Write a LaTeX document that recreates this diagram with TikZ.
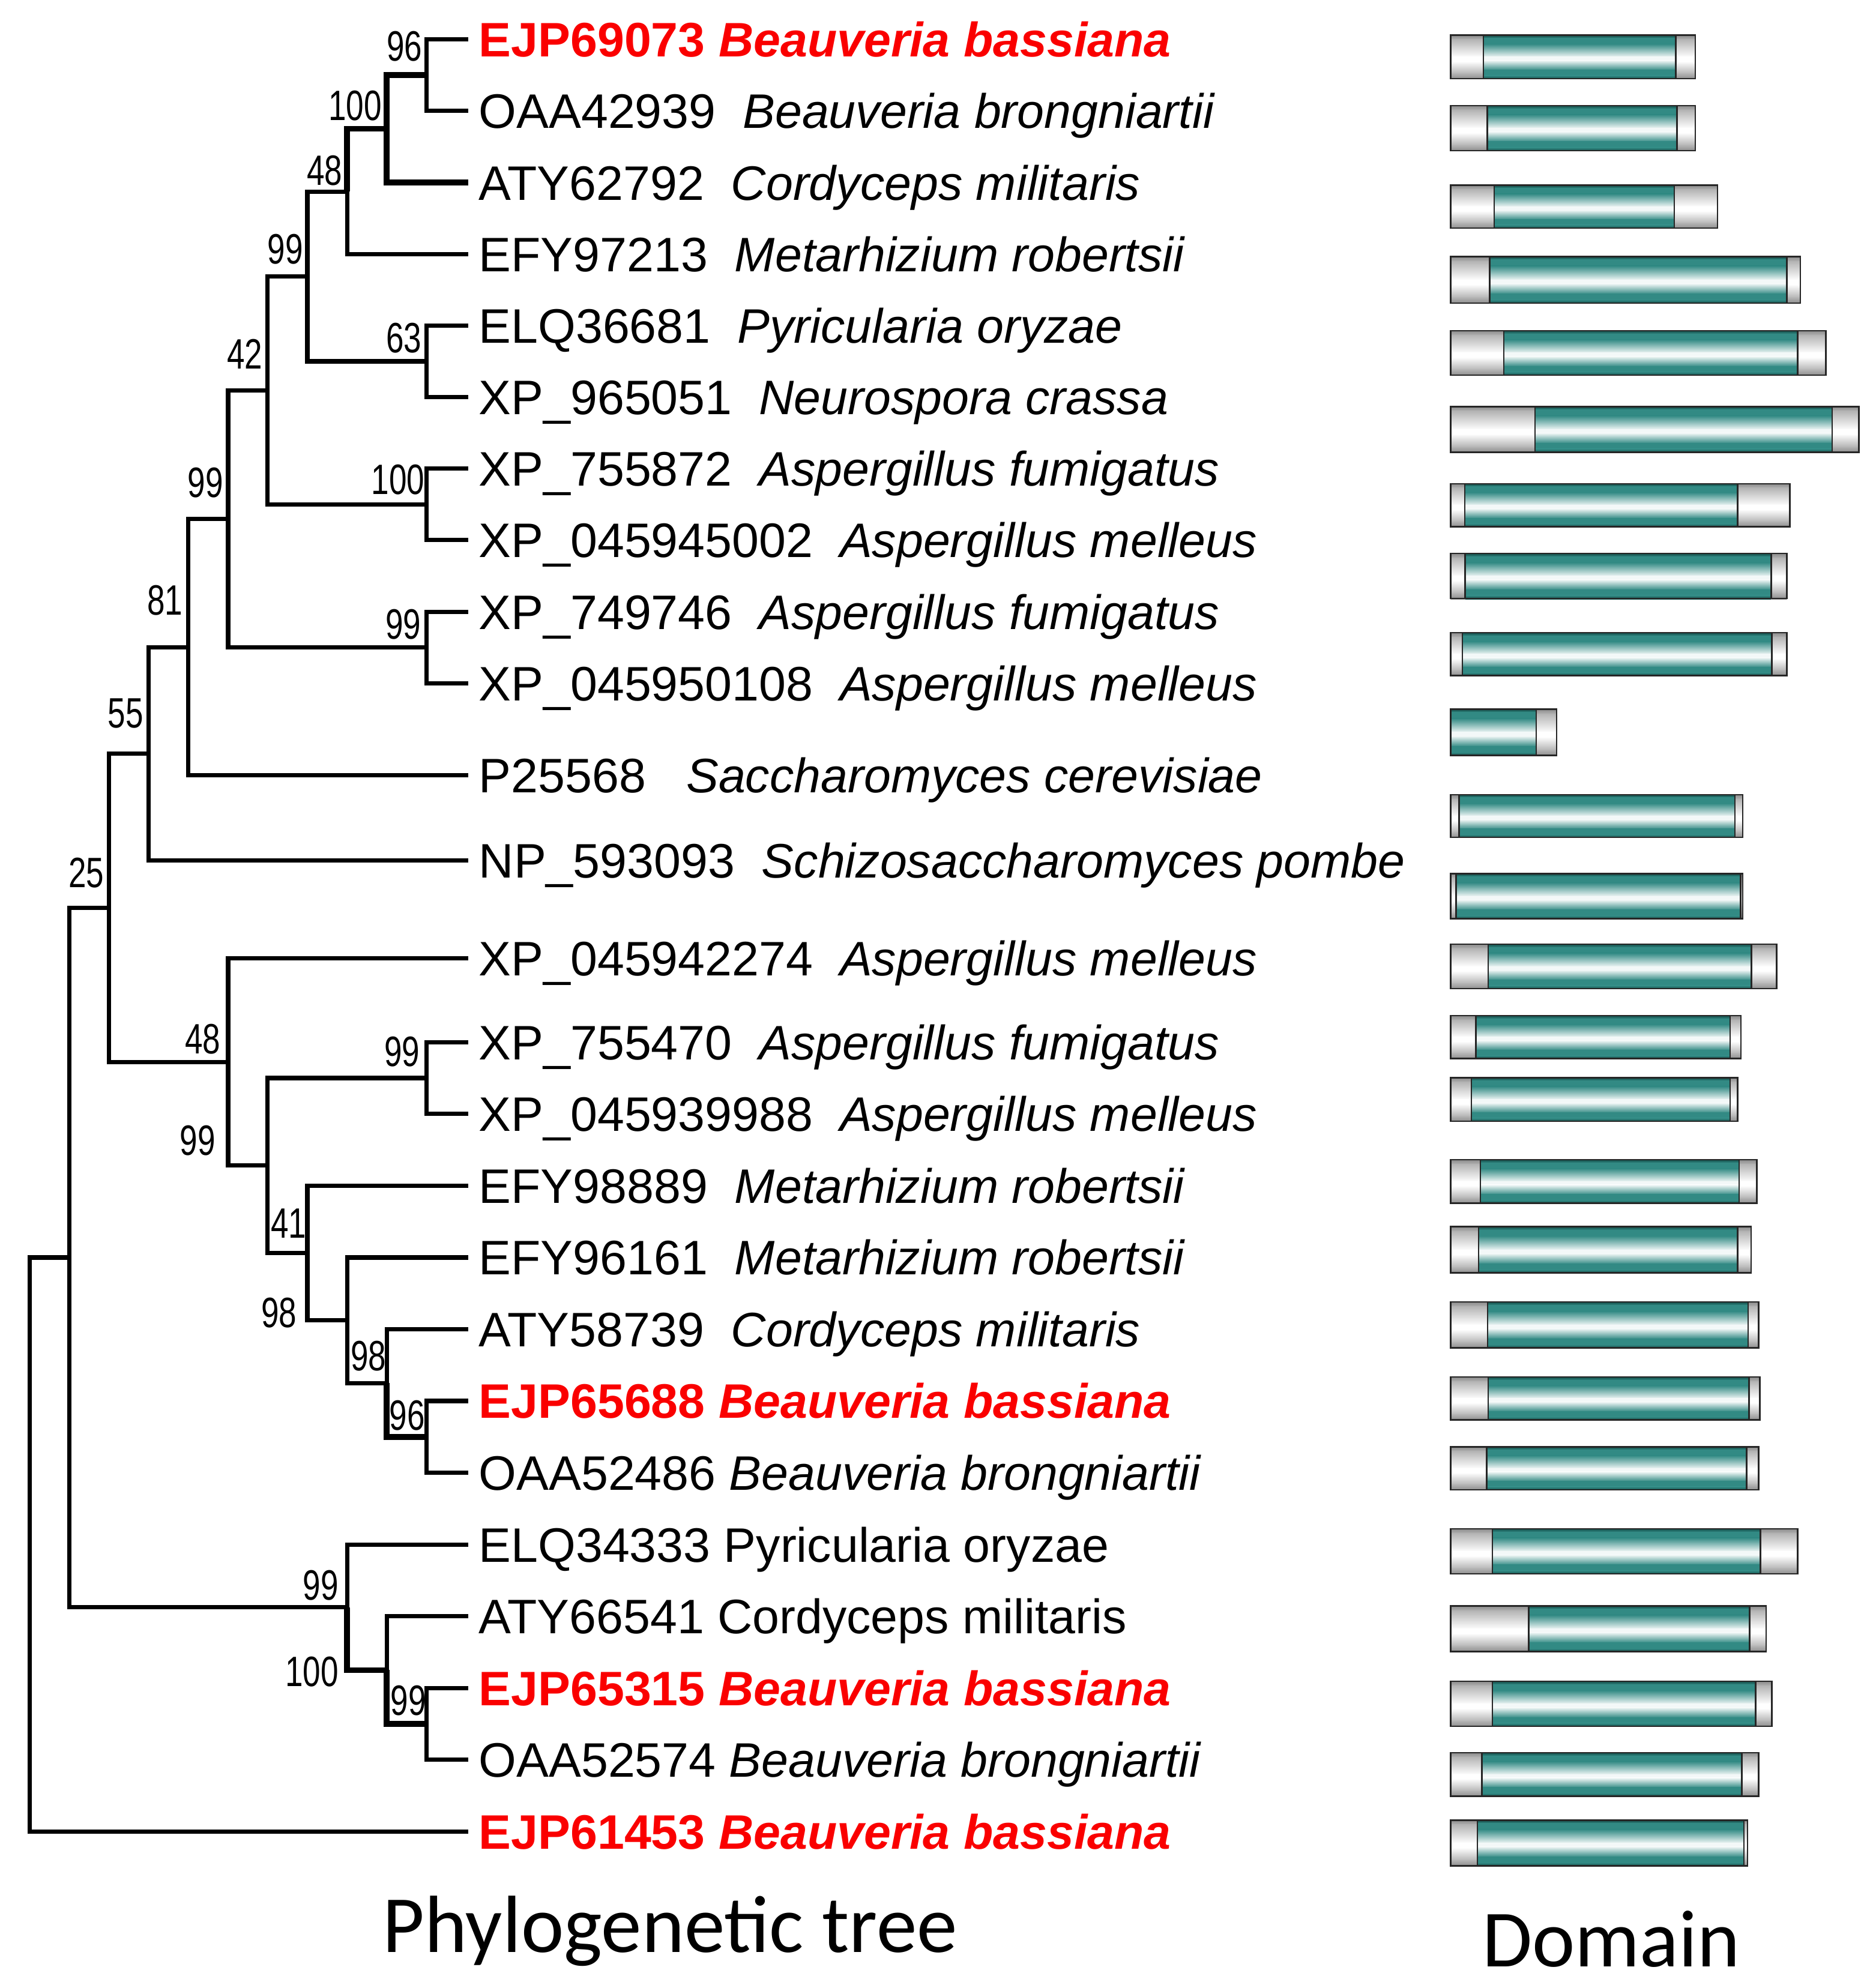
\documentclass[tikz,border=0pt]{standalone}
\usepackage{fontspec}
\setmainfont{Liberation Sans}
\newfontfamily\bsfont[FakeStretch=0.75]{Liberation Sans}
\newfontfamily\ttlfont{Carlito}
\definecolor{tmain}{RGB}{50,138,132}
\definecolor{tdark}{RGB}{20,80,76}
\colorlet{tlC}{tmain!6!white}
\definecolor{gmain}{RGB}{180,180,180}
\definecolor{gdark}{RGB}{140,140,140}
\definecolor{redlab}{RGB}{250,0,0}
\newcommand{\tealfill}[4]{%
  \pgfmathsetmacro\bhh{#4-#3}%
  \foreach \fa/\fb/\ca/\cb in {0/0.07/tdark/tmain, 0.07/0.2/tmain/tmain, 0.2/0.5/tmain/tlC, 0.5/0.58/tlC/tlC, 0.58/0.8/tlC/tmain, 0.8/0.93/tmain/tmain, 0.93/1/tmain/tdark}{%
    \shade[top color=\ca, bottom color=\cb] (#1,{#3+\fa*\bhh}) rectangle (#2,{#3+\fb*\bhh+0.4});
  }}
\newcommand{\grayfill}[4]{%
  \pgfmathsetmacro\bhh{#4-#3}%
  \foreach \fa/\fb/\ca/\cb in {0/0.1/gdark/gmain, 0.1/0.5/gmain/white, 0.5/0.6/white/white, 0.6/0.88/white/gmain, 0.88/1/gmain/gdark}{%
    \shade[top color=\ca, bottom color=\cb] (#1,{#3+\fa*\bhh}) rectangle (#2,{#3+\fb*\bhh+0.4});
  }}
\newcommand{\dombar}[5]{%
  \grayfill{1144}{#3}{#1}{#2}
  \tealfill{#3}{#4}{#1}{#2}
  \grayfill{#4}{#5}{#1}{#2}
  \draw[barline] (#3,#1) -- (#3,#2) (#4,#1) -- (#4,#2);
  \draw[barline] (1144,#1) rectangle (#5,#2);
}
\begin{document}
\begin{tikzpicture}[x=0.5pt,y=-0.5pt,
  br/.style={line width=1.7pt, black},
  brk/.style={line width=2.3pt, black},
  leaf/.style={anchor=west, inner xsep=4pt, inner ysep=0pt, text height=13.7pt, text depth=0pt, font=\fontsize{19.1}{22}\selectfont},
  redleaf/.style={leaf, text=redlab, font=\fontsize{19.1}{22}\selectfont\bfseries},
  bs/.style={inner sep=0pt, text height=12pt, text depth=0pt, font=\bsfont\fontsize{16.75}{18}\selectfont},
  barline/.style={line width=0.6pt, black!85},
  ttl/.style={anchor=base, inner sep=0pt, font=\ttlfont\fontsize{32}{38}\selectfont}]
\useasboundingbox (0,0) rectangle (1479,1568);
\fill[white] (0,0) rectangle (1479,1568);

% leaf labels
\node[redleaf] (L1) at (369.3,31) {EJP69073 \textit{Beauveria bassiana}};
\node[leaf] (L2) at (369.3,87.5) {OAA42939~~\textit{Beauveria brongniartii}};
\node[leaf] (L3) at (369.3,144) {ATY62792~~\textit{Cordyceps militaris}};
\node[leaf] (L4) at (369.3,200.5) {EFY97213~~\textit{Metarhizium robertsii}};
\node[leaf] (L5) at (369.3,257) {ELQ36681~~\textit{Pyricularia oryzae}};
\node[leaf] (L6) at (369.3,313) {XP\_965051~~\textit{Neurospora crassa}};
\node[leaf] (L7) at (369.3,369.5) {XP\_755872~~\textit{Aspergillus fumigatus}};
\node[leaf] (L8) at (369.3,426) {XP\_045945002~~\textit{Aspergillus melleus}};
\node[leaf] (L9) at (369.3,482.5) {XP\_749746~~\textit{Aspergillus fumigatus}};
\node[leaf] (L10) at (369.3,539) {XP\_045950108~~\textit{Aspergillus melleus}};
\node[leaf] (L11) at (369.3,611.5) {P25568~~~\textit{Saccharomyces cerevisiae}};
\node[leaf] (L12) at (369.3,678.5) {NP\_593093~~\textit{Schizosaccharomyces pombe}};
\node[leaf] (L13) at (369.3,756) {XP\_045942274~~\textit{Aspergillus melleus}};
\node[leaf] (L14) at (369.3,822) {XP\_755470~~\textit{Aspergillus fumigatus}};
\node[leaf] (L15) at (369.3,878.6) {XP\_045939988~~\textit{Aspergillus melleus}};
\node[leaf] (L16) at (369.3,935.2) {EFY98889~~\textit{Metarhizium robertsii}};
\node[leaf] (L17) at (369.3,991.8) {EFY96161~~\textit{Metarhizium robertsii}};
\node[leaf] (L18) at (369.3,1048.4) {ATY58739~~\textit{Cordyceps militaris}};
\node[redleaf] (L19) at (369.3,1105) {EJP65688 \textit{Beauveria bassiana}};
\node[leaf] (L20) at (369.3,1161.6) {OAA52486 \textit{Beauveria brongniartii}};
\node[leaf] (L21) at (369.3,1218.2) {ELQ34333 Pyricularia oryzae};
\node[leaf] (L22) at (369.3,1274.8) {ATY66541 Cordyceps militaris};
\node[redleaf] (L23) at (369.3,1331.4) {EJP65315 \textit{Beauveria bassiana}};
\node[leaf] (L24) at (369.3,1388) {OAA52574 \textit{Beauveria brongniartii}};
\node[redleaf] (L25) at (369.3,1444.6) {EJP61453 \textit{Beauveria bassiana}};

% internal nodes
\coordinate (A1) at (336.3,59.25);
\coordinate (A2) at (305.0,101.6);
\coordinate (A3) at (273.7,151.1);
\coordinate (A4) at (336.3,285);
\coordinate (A5) at (242.4,218);
\coordinate (A6) at (336.3,397.75);
\coordinate (A7) at (211.1,307.9);
\coordinate (A8) at (336.3,510.75);
\coordinate (A9) at (179.9,409.3);
\coordinate (A10) at (148.6,510.4);
\coordinate (A11) at (117.3,594.5);
\coordinate (B1) at (336.3,850.3);
\coordinate (B2) at (336.3,1133.3);
\coordinate (B3) at (305.0,1090.85);
\coordinate (B4) at (273.7,1041.3);
\coordinate (B5) at (242.4,988.3);
\coordinate (B6) at (211.1,919.3);
\coordinate (B7) at (179.9,837.6);
\coordinate (N86) at (86.0,716);
\coordinate (C1) at (336.3,1359.7);
\coordinate (C2) at (305.0,1317.25);
\coordinate (C3) at (273.7,1267.7);
\coordinate (N54) at (54.7,991.8);
\coordinate (R) at (23.4,1218);

% branches
\draw[br] (A1) |- (L1.west);
\draw[br] (A1) |- (L2.west);
\draw[brk] (A2) |- (A1);
\draw[brk] (A2) |- (L3.west);
\draw[brk] (A3) |- (A2);
\draw[br] (A3) |- (L4.west);
\draw[br] (A4) |- (L5.west);
\draw[br] (A4) |- (L6.west);
\draw[br] (A5) |- (A3);
\draw[br] (A5) |- (A4);
\draw[br] (A6) |- (L7.west);
\draw[br] (A6) |- (L8.west);
\draw[br] (A7) |- (A5);
\draw[br] (A7) |- (A6);
\draw[br] (A8) |- (L9.west);
\draw[br] (A8) |- (L10.west);
\draw[br] (A9) |- (A7);
\draw[br] (A9) |- (A8);
\draw[br] (A10) |- (A9);
\draw[br] (A10) |- (L11.west);
\draw[br] (A11) |- (A10);
\draw[br] (A11) |- (L12.west);
\draw[br] (B1) |- (L14.west);
\draw[br] (B1) |- (L15.west);
\draw[br] (B2) |- (L19.west);
\draw[br] (B2) |- (L20.west);
\draw[br] (B3) |- (L18.west);
\draw[brk] (B3) |- (B2);
\draw[br] (B4) |- (L17.west);
\draw[br] (B4) |- (B3);
\draw[br] (B5) |- (L16.west);
\draw[br] (B5) |- (B4);
\draw[br] (B6) |- (B1);
\draw[br] (B6) |- (B5);
\draw[br] (B7) |- (L13.west);
\draw[br] (B7) |- (B6);
\draw[br] (N86) |- (A11);
\draw[br] (N86) |- (B7);
\draw[br] (C1) |- (L23.west);
\draw[br] (C1) |- (L24.west);
\draw[br] (C2) |- (L22.west);
\draw[brk] (C2) |- (C1);
\draw[br] (C3) |- (L21.west);
\draw[brk] (C3) |- (C2);
\draw[br] (N54) |- (N86);
\draw[br] (N54) |- (C3);
\draw[br] (R) |- (N54);
\draw[br] (R) |- (L25.west);

% bootstrap values
\node[bs] (s1) at (319,36) {96};
\node[bs] (s2) at (280,83) {100};
\node[bs] (s3) at (256,134) {48};
\node[bs] (s4) at (225,196) {99};
\node[bs] (s5) at (318.6,266) {63};
\node[bs] (s6) at (193,279) {42};
\node[bs] (s7) at (314,378) {100};
\node[bs] (s8) at (162,380) {99};
\node[bs] (s9) at (318,492) {99};
\node[bs] (s10) at (130,473) {81};
\node[bs] (s11) at (99,562) {55};
\node[bs] (s12) at (68,688) {25};
\node[bs] (s13) at (160,819) {48};
\node[bs] (s14) at (317,829) {99};
\node[bs] (s15) at (156,899) {99};
\node[bs] (s16) at (227.5,964.5) {41};
\node[bs] (s17) at (220,1035) {98};
\node[bs] (s18) at (290.6,1069) {98};
\node[bs] (s19) at (321,1116) {96};
\node[bs] (s20) at (253,1250) {99};
\node[bs] (s21) at (246,1318) {100};
\node[bs] (s22) at (322,1341) {99};

% domain bars
\dombar{27.8}{62.0}{1169.8}{1321.5}{1337}
\dombar{83.3}{118.8}{1172.9}{1322.4}{1337}
\dombar{146.1}{179.9}{1178.3}{1320.4}{1354.5}
\dombar{202.4}{239}{1174.7}{1409.2}{1419.8}
\dombar{260.8}{295.8}{1186}{1417.7}{1440}
\dombar{320.7}{356.6}{1210.6}{1444.9}{1465.9}
\dombar{381.5}{415.4}{1155.1}{1370.3}{1411.5}
\dombar{436.6}{472.1}{1155.5}{1396.8}{1409.2}
\dombar{499.1}{532.8}{1153.3}{1397.2}{1409.2}
\tealfill{1144}{1211.4}{559.3}{595.8}
\grayfill{1211.4}{1227.5}{559.3}{595.8}
\draw[barline] (1211.4,559.3) -- (1211.4,595.8);
\draw[barline] (1144,559.3) rectangle (1227.5,595.8);
\dombar{626.8}{660.5}{1150.6}{1368.3}{1374.4}
\dombar{689}{724.7}{1148.4}{1372.6}{1374.4}
\dombar{744.7}{779.8}{1173.6}{1381.1}{1401.1}
\dombar{801.1}{834.9}{1163.9}{1364.3}{1373}
\dombar{850}{884.3}{1160.3}{1364.3}{1370.3}
\dombar{914.7}{948.9}{1167.5}{1371.5}{1385.4}
\dombar{967.5}{1004}{1166.1}{1370.3}{1380.9}
\dombar{1026.9}{1063}{1173.1}{1378.6}{1386.8}
\dombar{1086.1}{1119.8}{1173.6}{1379.3}{1387.9}
\dombar{1141.2}{1175}{1172.4}{1377.5}{1386.8}
\dombar{1205.8}{1241.3}{1176.9}{1388.3}{1417.7}
\dombar{1266.7}{1302.6}{1205.5}{1379.7}{1392.8}
\dombar{1326.1}{1361.6}{1177}{1384.5}{1397.3}
\dombar{1382.4}{1416.6}{1168.6}{1373.7}{1386.8}
\dombar{1435.6}{1471.6}{1165}{1375.3}{1378.2}

% titles
\node[ttl] (t1) at (528.4,1540) {Phylogenetic tree};
\node[ttl] (t2) at (1270.5,1551.4) {Domain};
\end{tikzpicture}
\end{document}
